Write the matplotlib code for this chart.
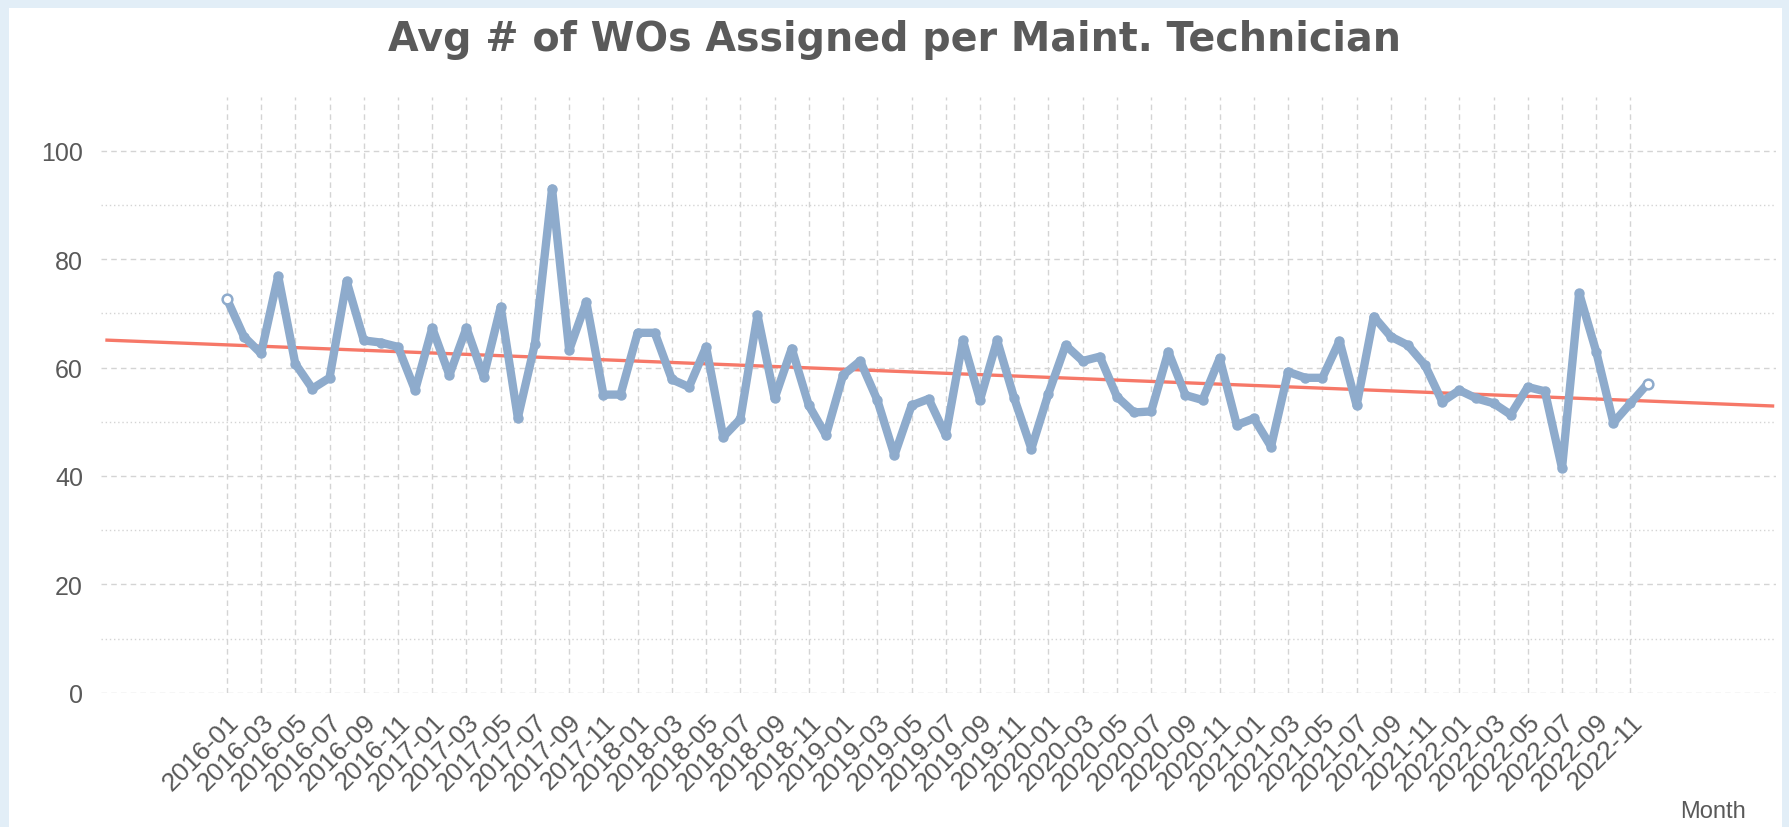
import matplotlib
matplotlib.use('Agg')
import matplotlib.pyplot as plt
import numpy as np
import pandas as pd
from matplotlib.patches import Rectangle

# months 2016-01 .. 2022-12
months = pd.period_range('2016-01', '2022-12', freq='M').strftime('%Y-%m').tolist()

# avg number of work orders assigned per maintenance technician
wos_per_tech = [
    72.7, 65.7, 62.6, 76.9, 60.7, 56.1, 58.1, 75.9, 65.0, 64.6, 63.8, 55.8, 67.3, 58.6,
    67.3, 58.3, 71.2, 50.7, 64.4, 93.0, 63.2, 72.1, 55.0, 55.0, 66.4, 66.4, 57.8, 56.4,
    63.8, 47.2, 50.5, 69.7, 54.3, 63.5, 53.0, 47.5, 58.6, 61.2, 54.0, 43.8, 53.0, 54.2,
    47.5, 65.0, 54.0, 65.0, 54.3, 45.0, 55.2, 64.1, 61.2, 62.0, 54.6, 51.7, 51.9, 62.9,
    54.9, 54.0, 61.7, 49.4, 50.6, 45.4, 59.2, 58.1, 58.1, 64.9, 53.0, 69.4, 65.7, 64.1,
    60.4, 53.7, 55.8, 54.3, 53.4, 51.3, 56.4, 55.6, 41.4, 73.7, 62.9, 49.8, 53.4, 57.0,
]

# linear trend, value at left and right end of the axis
trend_ends = [65.05, 52.9]

TITLE = 'Avg # of WOs Assigned per Maint. Technician'
BLUE = '#8eabcc'
RED = '#f67868'
GREY = '#595959'
GRID = '#d4d4d4'
LABEL_FONT = ['Liberation Sans', 'DejaVu Sans']

W, H = 1789, 828
fig = plt.figure(figsize=(W / 100, H / 100), dpi=100, facecolor='#e2eef7')
# white panel inside the light blue frame
fig.patches.append(Rectangle((9 / W, 0), (1782 - 9) / W, (H - 9) / H,
                             transform=fig.transFigure, facecolor='white',
                             edgecolor='none', zorder=-1))

ax = fig.add_axes([101 / W, (H - 693.7) / H, (1776 - 101) / W, (693.7 - 97.5) / H])
ax.set_facecolor('none')

x = np.arange(len(months))
vals = np.array(wos_per_tech)

ax.plot([-7.0, 90.3], trend_ends, color=RED, lw=2.4, zorder=2)
ax.plot(x, vals, color=BLUE, lw=6.0, marker='o', ms=6.5, mfc=BLUE, mec=BLUE,
        solid_joinstyle='round', solid_capstyle='round', zorder=3)
ax.plot(x[[0, -1]], vals[[0, -1]], 'o', ms=7, mfc='white', mec=BLUE, mew=1.8, zorder=4)

ax.set_xlim(-7.35, 90.5)
ax.set_ylim(0, 110)

ax.set_yticks(np.arange(0, 101, 20))
ax.set_yticks(np.arange(10, 100, 20), minor=True)
ax.set_xticks(x[::2])
ax.set_xticklabels(months[::2], rotation=45, ha='right', rotation_mode='anchor')

ax.tick_params(axis='both', which='both', length=0, colors=GREY, labelsize=18)
ax.tick_params(axis='x', labelsize=19, pad=12)
ax.tick_params(axis='y', pad=13)
for lbl in ax.get_xticklabels() + ax.get_yticklabels():
    lbl.set_family(LABEL_FONT)

ax.grid(axis='y', which='major', color=GRID, lw=1, ls=(0, (4, 3)))
ax.grid(axis='y', which='minor', color=GRID, lw=1, ls=(0, (1, 2)))
ax.grid(axis='x', which='major', color=GRID, lw=1, ls=(0, (4, 3)))
ax.set_axisbelow(True)
for s in ax.spines.values():
    s.set_visible(False)

fig.text(0.5, 1 - 40 / H, TITLE, ha='center', va='center', fontsize=28.5,
         fontweight='bold', color='#5a5a5a')
fig.text(1746 / W, 1 - 812 / H, 'Month', ha='right', va='center', fontsize=17,
         color=GREY, family=LABEL_FONT)

fig.savefig('out.png', dpi=100, facecolor=fig.get_facecolor())
